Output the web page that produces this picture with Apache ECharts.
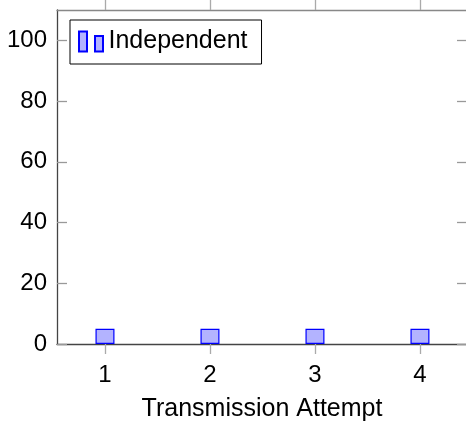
<!DOCTYPE html>
<html>
<head>
<meta charset="utf-8">
<script src="https://cdn.jsdelivr.net/npm/echarts@6/dist/echarts.min.js"></script>
<style>
  html, body { margin: 0; padding: 0; background: #fff; }
  #chart { width: 466px; height: 422px; }
</style>
</head>
<body>
<div id="chart"></div>
<script>
// Transmission attempts and the share sent independently at each one
const attempts = [1, 2, 3, 4];
const independentValues = [5, 5, 5, 5];
const yTicks = [0, 20, 40, 60, 80, 100];
const seriesName = 'Independent';

const FONT = 'Liberation Sans, Arial, Helvetica, sans-serif';
const xMin = 0.543, xMax = 4.448;

const chart = echarts.init(document.getElementById('chart'), null, { renderer: 'canvas' });

const barData = attempts.map((a, i) => [a, independentValues[i]]);

chart.setOption({
  animation: false,
  backgroundColor: '#ffffff',
  grid: { left: 57, top: 10, right: -1, bottom: 78, containLabel: false, outerBoundsMode: 'none' },
  legend: {
    left: 70, top: 20,
    orient: 'horizontal',
    data: [seriesName],
    icon: 'path://M0,0h8v20h-8z M16,4.5h8v15.5h-8z',
    itemWidth: 25, itemHeight: 20, itemGap: 5,
    borderColor: '#000', borderWidth: 1, borderRadius: 0,
    padding: [9, 14, 10, 8],
    backgroundColor: '#fff',
    textStyle: { fontFamily: FONT, fontSize: 25, color: '#000', padding: [2, 0, 0, 0] },
    selectedMode: false
  },
  xAxis: [
    {
      type: 'value', position: 'bottom', min: xMin, max: xMax,
      axisLine: { show: true, lineStyle: { color: '#444', width: 1.3 } },
      axisTick: { show: true, inside: false, length: 10, customValues: attempts, lineStyle: { color: '#aaa', width: 1.3 } },
      axisLabel: { show: true, customValues: attempts, margin: 19, fontFamily: FONT, fontSize: 24, color: '#000' },
      splitLine: { show: false },
      name: 'Transmission Attempt', nameLocation: 'middle', nameGap: 53,
      nameTextStyle: { fontFamily: FONT, fontSize: 25, color: '#000' }
    },
    {
      type: 'value', position: 'top', min: xMin, max: xMax,
      axisLine: { show: true, onZero: false, lineStyle: { color: '#888', width: 1.3 } },
      axisTick: { show: true, inside: false, length: 10, customValues: attempts, lineStyle: { color: '#aaa', width: 1.3 } },
      axisLabel: { show: false },
      splitLine: { show: false }
    }
  ],
  yAxis: [
    {
      type: 'value', position: 'left', min: 0, max: 110,
      axisLine: { show: true, onZero: false, lineStyle: { color: '#444', width: 1.3 } },
      axisTick: { show: true, inside: true, length: 10, customValues: yTicks, lineStyle: { color: '#999', width: 1.3 } },
      axisLabel: { show: true, customValues: yTicks, margin: 10, fontFamily: FONT, fontSize: 24, color: '#000' },
      splitLine: { show: false }
    },
    {
      type: 'value', position: 'right', min: 0, max: 110,
      axisLine: { show: true, onZero: false, lineStyle: { color: '#888', width: 1.3 } },
      axisTick: { show: true, inside: true, length: 10, customValues: yTicks, lineStyle: { color: '#999', width: 1.3 } },
      axisLabel: { show: false },
      splitLine: { show: false }
    }
  ],
  series: [
    {
      name: seriesName,
      type: 'bar',
      xAxisIndex: 0, yAxisIndex: 0,
      data: barData,
      barWidth: 19,
      itemStyle: { color: '#b3b3ff', borderColor: '#0000ff', borderWidth: 1.2 },
      z: 1
    }
  ]
});
</script>
</body>
</html>
